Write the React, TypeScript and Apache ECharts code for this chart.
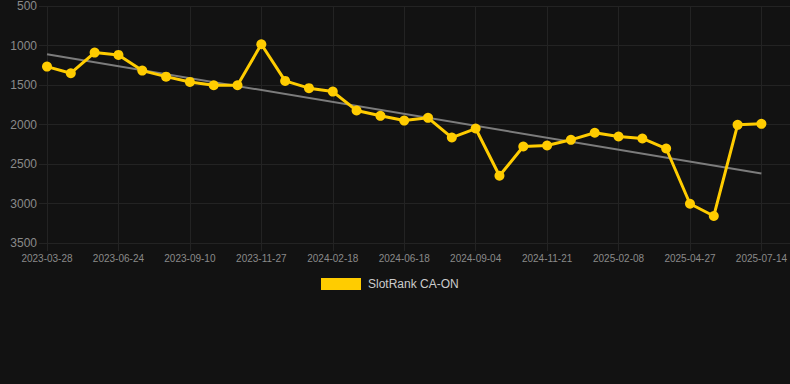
import React, { useEffect, useRef } from "react";
import * as echarts from "echarts";

const categories: string[] = [
  "2023-03-28", "2023-04-26", "2023-05-25", "2023-06-24", "2023-07-20", "2023-08-15",
  "2023-09-10", "2023-10-06", "2023-11-01", "2023-11-27", "2023-12-25", "2024-01-21",
  "2024-02-18", "2024-03-29", "2024-05-08", "2024-06-18", "2024-07-14", "2024-08-09",
  "2024-09-04", "2024-09-30", "2024-10-26", "2024-11-21", "2024-12-17", "2025-01-13",
  "2025-02-08", "2025-03-06", "2025-04-01", "2025-04-27", "2025-05-23", "2025-06-18",
  "2025-07-14",
];

const rankValues: number[] = [
  1267, 1351, 1090, 1119, 1318, 1394, 1461, 1503, 1503, 984, 1448, 1540, 1583, 1823,
  1890, 1950, 1916, 2165, 2051, 2649, 2278, 2266, 2194, 2105, 2152, 2177, 2304, 3003,
  3158, 2004, 1992,
];

const trendStart = 1111;
const trendEnd = 2620;

const seriesName = "SlotRank CA-ON";
const yMin = 500;
const yMax = 3500;
const yStep = 500;

const FONT = "'Liberation Sans', Arial, Helvetica, sans-serif";
const GRID_COLOR = "#232323";
const LABEL_COLOR = "#8a8a8a";

export default function App() {
  const ref = useRef<HTMLDivElement>(null);

  useEffect(() => {
    if (!ref.current) return;
    const chart = echarts.init(ref.current, undefined, { renderer: "svg" });
    chart.setOption({
      animation: false,
      backgroundColor: "#121212",
      textStyle: { fontFamily: FONT },
      legend: {
        data: [seriesName],
        top: 273,
        left: 316,
        icon: "rect",
        itemWidth: 40,
        itemHeight: 12,
        itemGap: 10,
        textStyle: {
          color: "#cccccc",
          fontSize: 12,
          fontFamily: FONT,
          padding: [0, 0, 0, 2],
        },
      },
      grid: [
        { left: 47, right: 28, top: 6, bottom: 141 },
        { left: 39, right: 0, top: 6, bottom: 141 },
      ],
      xAxis: [
        {
          type: "category",
          gridIndex: 0,
          data: categories,
          boundaryGap: false,
          axisLine: { show: false },
          axisTick: {
            show: true,
            interval: 2,
            length: 8,
            lineStyle: { color: GRID_COLOR, width: 1 },
          },
          splitLine: {
            show: true,
            interval: 2,
            lineStyle: { color: GRID_COLOR, width: 1 },
          },
          axisLabel: {
            interval: 2,
            color: LABEL_COLOR,
            fontSize: 10,
            margin: 10,
            fontFamily: FONT,
          },
        },
        {
          type: "value",
          gridIndex: 1,
          min: 0,
          max: 1,
          show: false,
        },
      ],
      yAxis: [
        {
          type: "value",
          gridIndex: 0,
          inverse: true,
          min: yMin,
          max: yMax,
          interval: yStep,
          axisLine: { show: false },
          axisTick: {
            show: true,
            length: 8,
            lineStyle: { color: GRID_COLOR, width: 1 },
          },
          splitLine: { show: false },
          axisLabel: {
            color: LABEL_COLOR,
            fontSize: 12,
            margin: 10,
            fontFamily: FONT,
            formatter: (v: number) => String(v),
          },
        },
        {
          type: "value",
          gridIndex: 1,
          inverse: true,
          min: yMin,
          max: yMax,
          interval: yStep,
          axisLine: { show: false },
          axisTick: { show: false },
          axisLabel: { show: false },
          splitLine: { show: true, lineStyle: { color: GRID_COLOR, width: 1 } },
        },
      ],
      series: [
        {
          name: "trend",
          type: "line",
          xAxisIndex: 0,
          yAxisIndex: 0,
          data: [
            [categories[0], trendStart],
            [categories[categories.length - 1], trendEnd],
          ],
          symbol: "none",
          lineStyle: { color: "#7c7c7c", width: 2 },
          itemStyle: { color: "#7c7c7c" },
          z: 2,
          silent: true,
        },
        {
          name: seriesName,
          type: "line",
          xAxisIndex: 0,
          yAxisIndex: 0,
          data: rankValues,
          symbol: "circle",
          symbolSize: 10,
          showSymbol: true,
          lineStyle: { color: "#ffcc00", width: 3 },
          itemStyle: { color: "#ffcc00" },
          z: 3,
        },
      ],
    });
    return () => chart.dispose();
  }, []);

  return (
    <div
      ref={ref}
      style={{
        position: "fixed",
        left: 0,
        top: 0,
        width: 790,
        height: 384,
        background: "#121212",
      }}
    />
  );
}
